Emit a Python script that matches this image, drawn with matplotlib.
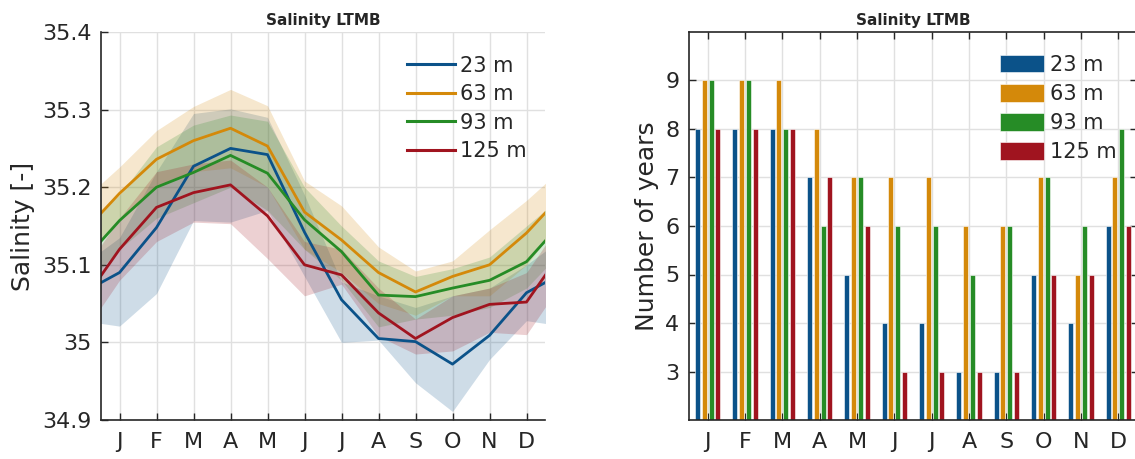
import numpy as np
import matplotlib
matplotlib.use("Agg")
import matplotlib.pyplot as plt
from matplotlib.patches import Patch
from matplotlib.lines import Line2D

# ---- data ---------------------------------------------------------------
months = ["J", "F", "M", "A", "M", "J", "J", "A", "S", "O", "N", "D"]
depths = ["23 m", "63 m", "93 m", "125 m"]

# monthly mean salinity per depth
sal_23 = [35.090, 35.148, 35.227, 35.250, 35.242, 35.142, 35.055, 35.005, 35.001, 34.972, 35.009, 35.064]
sal_63 = [35.192, 35.236, 35.260, 35.276, 35.253, 35.168, 35.132, 35.090, 35.065, 35.085, 35.100, 35.141]
sal_93 = [35.157, 35.200, 35.219, 35.241, 35.218, 35.158, 35.117, 35.061, 35.059, 35.070, 35.080, 35.104]
sal_125 = [35.120, 35.174, 35.193, 35.203, 35.163, 35.100, 35.087, 35.038, 35.005, 35.032, 35.049, 35.052]

# spread (lower / upper envelope) per depth
lo_23 = [35.021, 35.063, 35.157, 35.155, 35.170, 35.085, 35.000, 35.003, 34.948, 34.911, 34.978, 35.028]
hi_23 = [35.135, 35.220, 35.295, 35.301, 35.290, 35.190, 35.078, 35.060, 35.045, 35.060, 35.070, 35.100]
lo_63 = [35.160, 35.200, 35.220, 35.225, 35.200, 35.120, 35.090, 35.050, 35.035, 35.060, 35.060, 35.100]
hi_63 = [35.226, 35.273, 35.304, 35.326, 35.305, 35.208, 35.176, 35.123, 35.092, 35.105, 35.145, 35.183]
lo_93 = [35.120, 35.160, 35.180, 35.200, 35.170, 35.120, 35.080, 35.020, 35.030, 35.035, 35.045, 35.070]
hi_93 = [35.190, 35.252, 35.280, 35.293, 35.285, 35.200, 35.150, 35.105, 35.085, 35.095, 35.110, 35.150]
lo_125 = [35.080, 35.130, 35.155, 35.153, 35.108, 35.060, 35.075, 35.008, 34.985, 34.989, 35.013, 35.010]
hi_125 = [35.160, 35.220, 35.230, 35.235, 35.200, 35.130, 35.120, 35.070, 35.030, 35.060, 35.070, 35.090]

# number of years with data per month and depth
years_23 = [8, 8, 8, 7, 5, 4, 4, 3, 3, 5, 4, 6]
years_63 = [9, 9, 9, 8, 7, 7, 7, 6, 6, 7, 5, 7]
years_93 = [9, 9, 8, 6, 7, 6, 6, 5, 6, 7, 6, 8]
years_125 = [8, 8, 8, 7, 6, 3, 3, 3, 3, 5, 5, 6]

colors = ["#0b5289", "#d4890a", "#268c26", "#a0141f"]
means = [sal_23, sal_63, sal_93, sal_125]
lows = [lo_23, lo_63, lo_93, lo_125]
highs = [hi_23, hi_63, hi_93, hi_125]
years = [years_23, years_63, years_93, years_125]

# ---- style --------------------------------------------------------------
TXT = "#262626"
GRID = "#e0e0e0"
plt.rcParams["font.family"] = ["DejaVu Sans"]
plt.rcParams["text.color"] = TXT
plt.rcParams["axes.labelcolor"] = TXT
plt.rcParams["xtick.color"] = TXT
plt.rcParams["ytick.color"] = TXT

W, H = 1135, 459
fig = plt.figure(figsize=(W / 100, H / 100), dpi=100)


def px_axes(x0, x1, y0, y1):
    return fig.add_axes([x0 / W, 1 - y1 / H, (x1 - x0) / W, (y1 - y0) / H])


def wrap(v):
    # cyclic year: December before January, January after December
    v = list(v)
    return np.array([v[-1]] + v + [v[0]])


xw = np.arange(0, 14)
xm = np.arange(1, 13)
TICK_FS = 16
LEG_FS = 15
LAB_FS = 18

# ---- left: seasonal cycle of salinity ----------------------------------
ax1 = px_axes(101, 545, 32, 420)
for lo, hi, c in zip(lows, highs, colors):
    ax1.fill_between(xw, wrap(lo), wrap(hi), color=c, alpha=0.2, linewidth=0)
for m, c in zip(means, colors):
    ax1.plot(xw, wrap(m), color=c, linewidth=2.0)

ax1.set_xlim(0.5, 12.5)
ax1.set_ylim(34.9, 35.4)
ax1.set_xticks(xm)
ax1.set_xticklabels(months)
ax1.set_yticks([34.9, 35.0, 35.1, 35.2, 35.3, 35.4])
ax1.set_yticklabels(["34.9", "35", "35.1", "35.2", "35.3", "35.4"])
ax1.set_ylabel("Salinity [-]", fontsize=LAB_FS)
ax1.yaxis.set_label_coords(-0.148, 0.5)
ax1.set_title("Salinity LTMB", fontsize=11, fontweight="bold", pad=5)
ax1.grid(True, color=GRID, linewidth=1)
ax1.set_axisbelow(True)
for s in ["top", "right"]:
    ax1.spines[s].set_visible(False)
for s in ["left", "bottom"]:
    ax1.spines[s].set_color(TXT)
    ax1.spines[s].set_linewidth(1.2)
ax1.tick_params(direction="in", length=5, width=1, labelsize=TICK_FS)
ax1.tick_params(axis="x", pad=9)
ax1.tick_params(axis="y", pad=7)

h1 = [Line2D([0], [0], color=c, linewidth=2.2) for c in colors]
ax1.legend(h1, depths, loc="upper left", bbox_to_anchor=(0.69, 0.939),
           frameon=False, fontsize=LEG_FS, handlelength=2.3, handletextpad=0.25,
           labelspacing=0.41, borderpad=0, borderaxespad=0)

# ---- right: number of years per month ----------------------------------
ax2 = px_axes(689, 1137, 32, 420)
pitch = 0.18
bw = 0.135
for i, (yv, c) in enumerate(zip(years, colors)):
    ax2.bar(xm + (i - 1.5) * pitch, yv, width=bw, color=c,
            edgecolor="white", linewidth=0.4, zorder=2)

ax2.set_xlim(0.5, 12.5)
ax2.set_ylim(2, 10)
ax2.set_xticks(xm)
ax2.set_xticklabels(months)
ax2.set_yticks(range(3, 10))
ax2.set_ylabel("Number of years", fontsize=LAB_FS)
ax2.yaxis.set_label_coords(-0.068, 0.5)
ax2.set_title("Salinity LTMB", fontsize=11, fontweight="bold", pad=5)
ax2.grid(True, color=GRID, linewidth=1, zorder=0)
ax2.set_axisbelow(True)
for s in ax2.spines.values():
    s.set_color(TXT)
    s.set_linewidth(1.2)
ax2.tick_params(direction="in", length=5, width=1, labelsize=TICK_FS,
                top=True, right=True)
ax2.tick_params(axis="x", pad=9)
ax2.tick_params(axis="y", pad=7)

h2 = [Patch(facecolor=c, edgecolor="white", linewidth=0.4) for c in colors]
ax2.legend(h2, depths, loc="upper left", bbox_to_anchor=(0.695, 0.942),
           frameon=False, fontsize=LEG_FS, handlelength=2.1, handleheight=0.95,
           handletextpad=0.3, labelspacing=0.43, borderpad=0, borderaxespad=0)

fig.savefig("out.png", dpi=100)
